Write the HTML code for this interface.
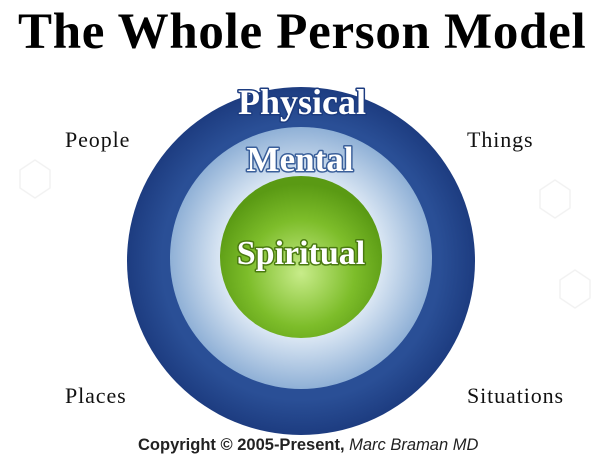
<!DOCTYPE html>
<html><head><style>
body{margin:0;width:609px;height:469px;background:#fff;overflow:hidden;position:relative;font-family:"Liberation Serif",serif}
.t{position:absolute;white-space:nowrap}
.l{font-size:22px;letter-spacing:0.9px;color:#111}
</style></head><body>
<svg width="609" height="469" style="position:absolute;left:0;top:0">
<defs>
<radialGradient id="o" cx="50%" cy="50%" r="50%"><stop offset="80%" stop-color="#2a4f96"/><stop offset="100%" stop-color="#1d3c80"/></radialGradient>
<radialGradient id="m" cx="50%" cy="50%" r="50%"><stop offset="55%" stop-color="#e6eff8"/><stop offset="100%" stop-color="#8fb0d6"/></radialGradient>
<radialGradient id="g" cx="50%" cy="60%" r="55%"><stop offset="0%" stop-color="#c8ec8a"/><stop offset="60%" stop-color="#7dbd2a"/><stop offset="100%" stop-color="#5a9a14"/></radialGradient>
</defs>
<g stroke="#f2f2f2" fill="none" stroke-width="1.5">
<polygon points="20,170 35,160 50,170 50,188 35,198 20,188"/>
<polygon points="540,190 555,180 570,190 570,208 555,218 540,208"/>
<polygon points="560,280 575,270 590,280 590,298 575,308 560,298"/>
</g>
<circle cx="301" cy="261" r="174" fill="url(#o)"/>
<circle cx="301" cy="258" r="131" fill="url(#m)"/>
<circle cx="301" cy="257" r="81" fill="url(#g)"/>
<g font-family="Liberation Serif,serif" font-weight="bold" text-anchor="middle" fill="#fff" stroke-linejoin="round">
<text x="302" y="114" font-size="36" stroke="#1d3c80" stroke-width="3" paint-order="stroke">Physical</text>
<text x="300" y="171" font-size="35" stroke="#3a5f9a" stroke-width="3" paint-order="stroke">Mental</text>
<text x="301" y="264" font-size="34" stroke="#4a7a10" stroke-width="3" paint-order="stroke">Spiritual</text>
</g>
</svg>
<div class="t" style="left:18px;top:3px;font-size:51px;font-weight:bold;letter-spacing:0.7px">The Whole Person Model</div>
<div class="t l" style="left:65px;top:127px">People</div>
<div class="t l" style="left:467px;top:127px">Things</div>
<div class="t l" style="left:65px;top:383px">Places</div>
<div class="t l" style="left:467px;top:383px">Situations</div>
<div class="t" style="left:138px;top:436px;font-family:'Liberation Sans',sans-serif;font-size:16.5px;font-weight:bold;color:#222">Copyright © 2005-Present, <span style="font-weight:normal;font-style:italic">Marc Braman MD</span></div>
</body></html>
